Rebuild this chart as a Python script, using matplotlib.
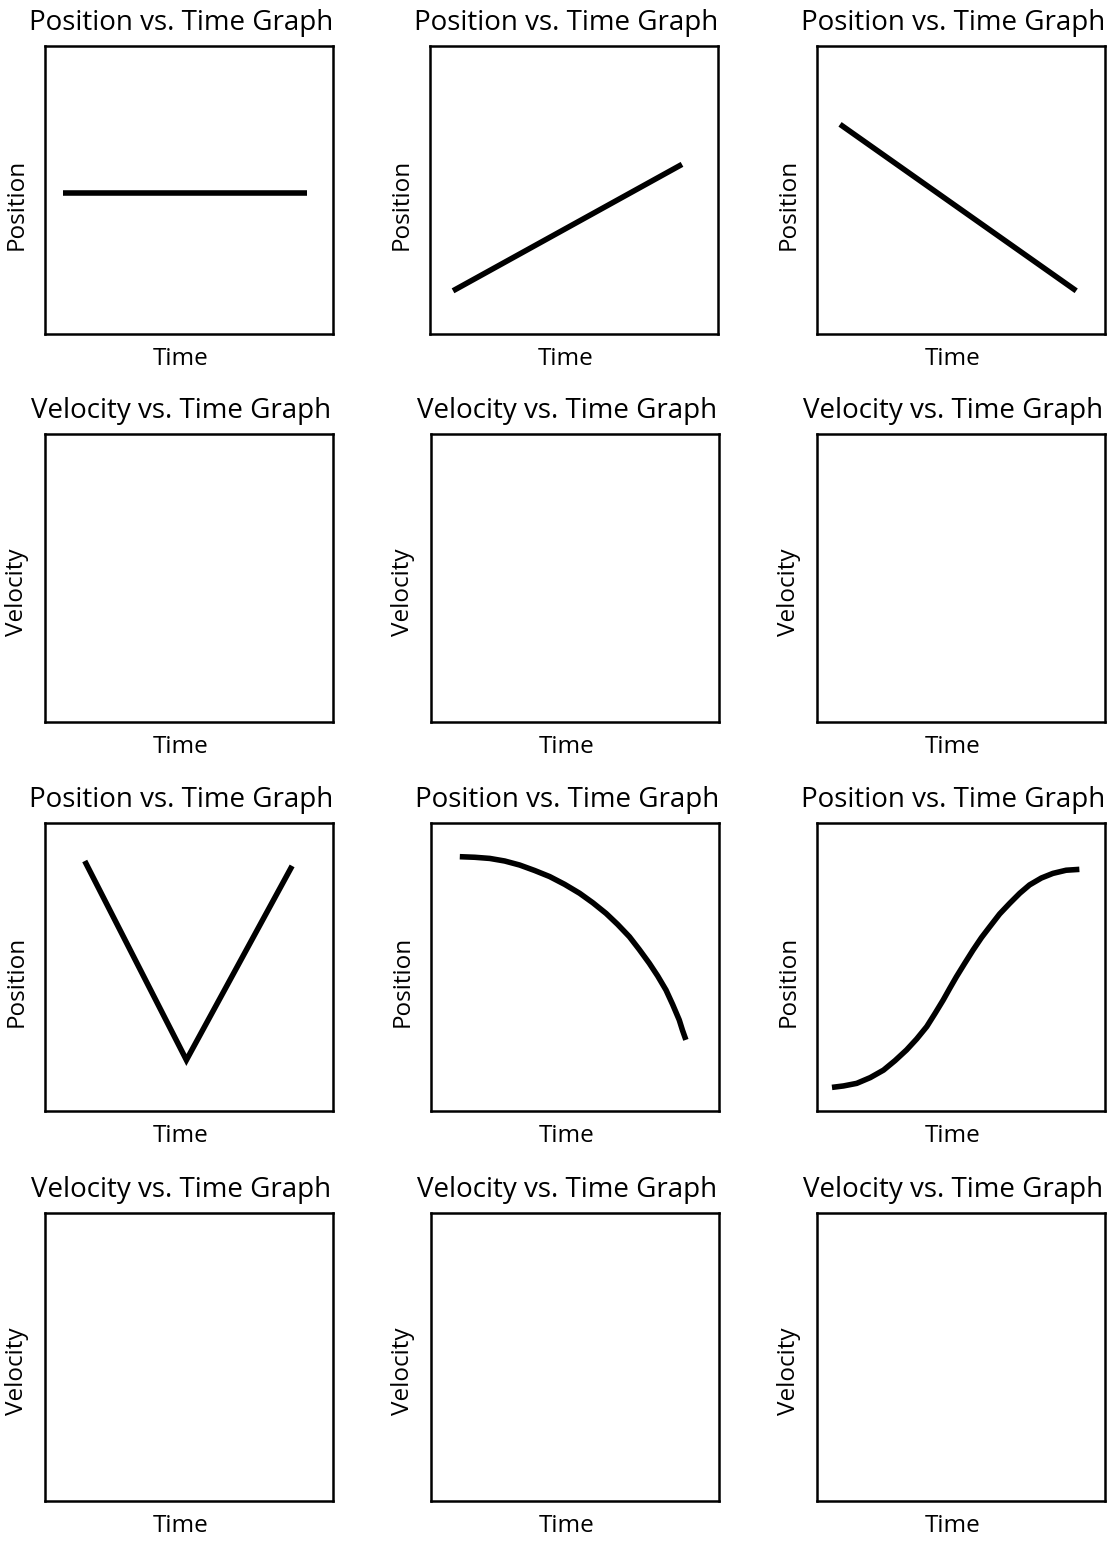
import matplotlib
matplotlib.use("Agg")
import matplotlib.pyplot as plt

# ---- data (normalized time / position) ----
titles_row = ["Position vs. Time Graph", "Velocity vs. Time Graph",
              "Position vs. Time Graph", "Velocity vs. Time Graph"]
ylabels_row = ["Position", "Velocity", "Position", "Velocity"]
xlabel = "Time"

# Row 1
p1_t = [0.062, 0.910]
p1_x = [0.488, 0.488]
p2_t = [0.080, 0.875]
p2_x = [0.150, 0.589]
p3_t = [0.080, 0.900]
p3_x = [0.728, 0.150]

# Row 3
p7_t = [0.138, 0.491, 0.858]
p7_x = [0.868, 0.177, 0.851]
p8_t = [0.100, 0.152, 0.204, 0.256, 0.308, 0.360, 0.412, 0.464, 0.516, 0.562, 0.608,
        0.648, 0.689, 0.723, 0.758, 0.787, 0.816, 0.839, 0.862, 0.873, 0.885]
p8_x = [0.883, 0.881, 0.877, 0.868, 0.854, 0.835, 0.814, 0.787, 0.756, 0.723, 0.686,
        0.648, 0.605, 0.561, 0.513, 0.469, 0.420, 0.370, 0.316, 0.281, 0.247]
p9_t = [0.052, 0.092, 0.138, 0.185, 0.231, 0.271, 0.311, 0.346, 0.381, 0.410, 0.438,
        0.461, 0.484, 0.513, 0.542, 0.571, 0.600, 0.634, 0.669, 0.704, 0.738, 0.779,
        0.819, 0.865, 0.911]
p9_x = [0.082, 0.087, 0.096, 0.116, 0.142, 0.175, 0.212, 0.250, 0.293, 0.339, 0.385,
        0.426, 0.466, 0.513, 0.559, 0.602, 0.640, 0.684, 0.721, 0.756, 0.785, 0.809,
        0.825, 0.836, 0.839]

series = {
    (0, 0): (p1_t, p1_x), (0, 1): (p2_t, p2_x), (0, 2): (p3_t, p3_x),
    (2, 0): (p7_t, p7_x), (2, 1): (p8_t, p8_x), (2, 2): (p9_t, p9_x),
}
joins = {(2, 0): 'miter'}

# ---- layout ----
W, H = 1110, 1542
fig = plt.figure(figsize=(W / 100, H / 100), dpi=100)
plt.rcParams['font.family'] = ['Open Sans', 'DejaVu Sans']

col_left = [[45, 430, 817], [45, 431, 817], [45, 431, 817], [45, 431, 817]]
row_top = [46, 434, 823, 1213]
box_w, box_h = 288, 288

for r in range(4):
    for c in range(3):
        l = col_left[r][c]
        t = row_top[r]
        ax = fig.add_axes([l / W, 1 - (t + box_h) / H, box_w / W, box_h / H])
        ax.set_xlim(0, 1)
        ax.set_ylim(0, 1)
        ax.set_xticks([])
        ax.set_yticks([])
        for s in ax.spines.values():
            s.set_linewidth(1.8)
            s.set_color('black')
        ax.text(0.472, 1.056, titles_row[r], transform=ax.transAxes,
                ha='center', va='baseline', fontsize=20, color='black')
        ax.set_xlabel(xlabel, fontsize=17.5, va='center')
        ax.xaxis.set_label_coords(0.472, -0.087)
        ax.set_ylabel(ylabels_row[r], fontsize=17.5, va='center')
        ax.yaxis.set_label_coords(-0.097, 0.45)
        if (r, c) in series:
            tt, xx = series[(r, c)]
            ax.plot(tt, xx, color='black', lw=4.0,
                    solid_capstyle='butt',
                    solid_joinstyle=joins.get((r, c), 'round'))

fig.savefig("out.png", dpi=100, facecolor='white')
